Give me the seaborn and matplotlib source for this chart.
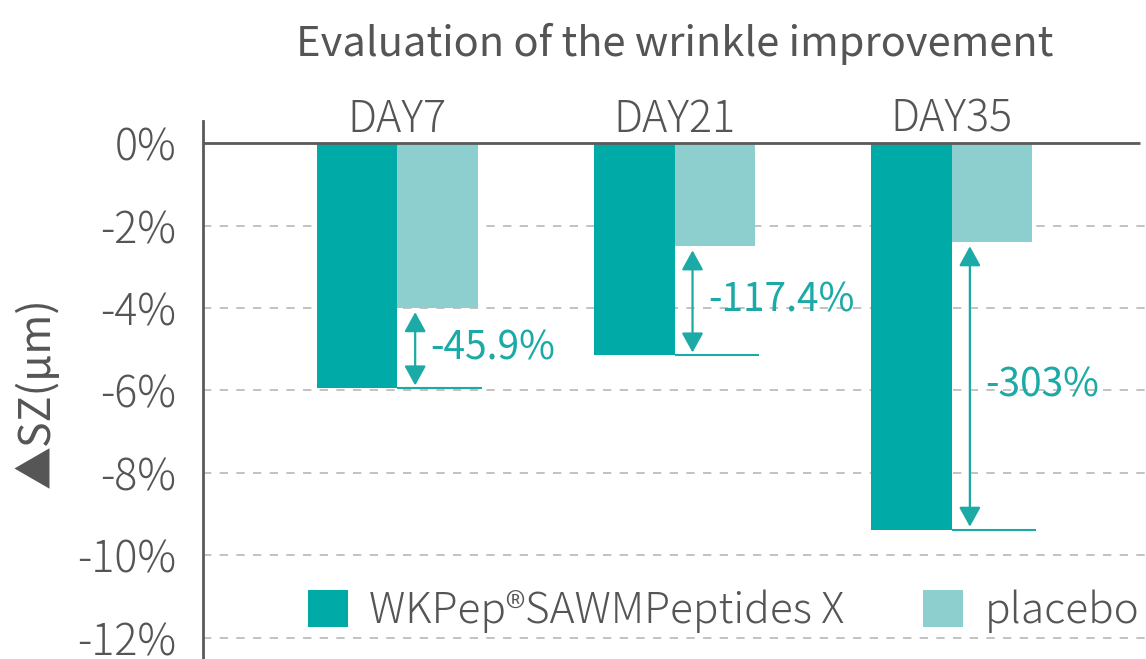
"""
Evaluation of the wrinkle improvement
grouped bar chart
"""

import matplotlib
matplotlib.use("Agg")

import pandas as pd
import matplotlib.pyplot as plt
import seaborn as sns


# ============================================================
# Data
# ============================================================

days = ["DAY7", "DAY21", "DAY35"]

wkpep_values = [-5.95, -5.15, -9.38]

placebo_values = [-4.0, -2.5, -2.4]

reduction_labels = ["-45.9%", "-117.4%", "-303%"]

series_names = ["WKPep®SAWMPeptides X", "placebo"]

y_ticks = [0, -2, -4, -6, -8, -10, -12]


# ============================================================
# Theme
# ============================================================

DARK = "#00AAA6"
LIGHT = "#8DCFCF"
ACCENT = "#1BAAA6"
GREY = "#555555"
AXIS = "#5A5A5A"

sns.set_theme(style="white")

plt.rcParams["font.family"] = ["Noto Sans CJK JP", "DejaVu Sans"]
plt.rcParams["font.weight"] = "light"


# ============================================================
# Plot
# ============================================================

df = pd.DataFrame(
    {
        "day": days * 2,
        "value": wkpep_values + placebo_values,
        "group": [series_names[0]] * 3 + [series_names[1]] * 3,
    }
)

fig = plt.figure(figsize=(11.46, 6.59), dpi=100)

ax = fig.add_axes([203 / 1146, 0, 1 - 203 / 1146, 538 / 659])

sns.barplot(
    data=df,
    x="day",
    y="value",
    hue="group",
    palette=[DARK, LIGHT],
    saturation=1,
    width=0.58,
    errorbar=None,
    linewidth=0,
    ax=ax,
    zorder=2,
)

ax.set_xlim(-0.70, 2.70)
ax.set_ylim(-12.52, 0.54)

# grid
for t in y_ticks[1:]:
    ax.axhline(t, color="#B8B8B8", lw=1.2, ls=(0, (5, 5)), zorder=0)

ax.hlines(0, -0.70, 2.68, color=AXIS, lw=2, zorder=3)

ax.set_yticks(y_ticks)
ax.set_yticklabels([f"{t}%" for t in y_ticks])
ax.tick_params(axis="y", length=0, pad=19, labelsize=31, labelcolor=GREY)
ax.set_xticks([])
ax.set_xlabel("")

for side in ["top", "right", "bottom"]:
    ax.spines[side].set_visible(False)
ax.spines["left"].set_color(AXIS)
ax.spines["left"].set_linewidth(2)

# day labels
for i, day in enumerate(days):
    ax.text(i, 0.28, day, ha="center", va="baseline",
            fontsize=31, color=GREY, clip_on=False)

# reduction annotations
for i, (wk, pl, lab) in enumerate(zip(wkpep_values, placebo_values, reduction_labels)):
    ax.annotate(
        "",
        xy=(i + 0.065, wk + 0.07),
        xytext=(i + 0.065, pl - 0.1),
        arrowprops=dict(
            arrowstyle="<|-|>,head_length=0.6,head_width=0.33",
            color=ACCENT,
            lw=1.6,
            mutation_scale=20,
            shrinkA=0,
            shrinkB=0,
        ),
        zorder=4,
    )
    ax.hlines(wk, i, i + 0.305, color=ACCENT, lw=1.5, zorder=4)
    ax.text(i + 0.12, (wk + pl) / 2, lab, ha="left", va="center",
            fontsize=28, color=ACCENT, fontweight="normal", zorder=4)

ax.set_title("Evaluation of the wrinkle improvement",
             fontsize=30, color=GREY, pad=47)

ax.set_ylabel("▲SZ(μm)", fontsize=31, color=GREY)
ax.yaxis.set_label_coords(-0.152, 0.496)

handles, labels = ax.get_legend_handles_labels()
ax.legend(
    handles,
    labels,
    loc="center",
    bbox_to_anchor=(0.552, 0.089),
    ncol=2,
    frameon=False,
    fontsize=30.5,
    handlelength=0.95,
    handleheight=0.95,
    handletextpad=0.5,
    columnspacing=1.85,
    labelcolor=GREY,
)

fig.savefig("out.png", dpi=100)
